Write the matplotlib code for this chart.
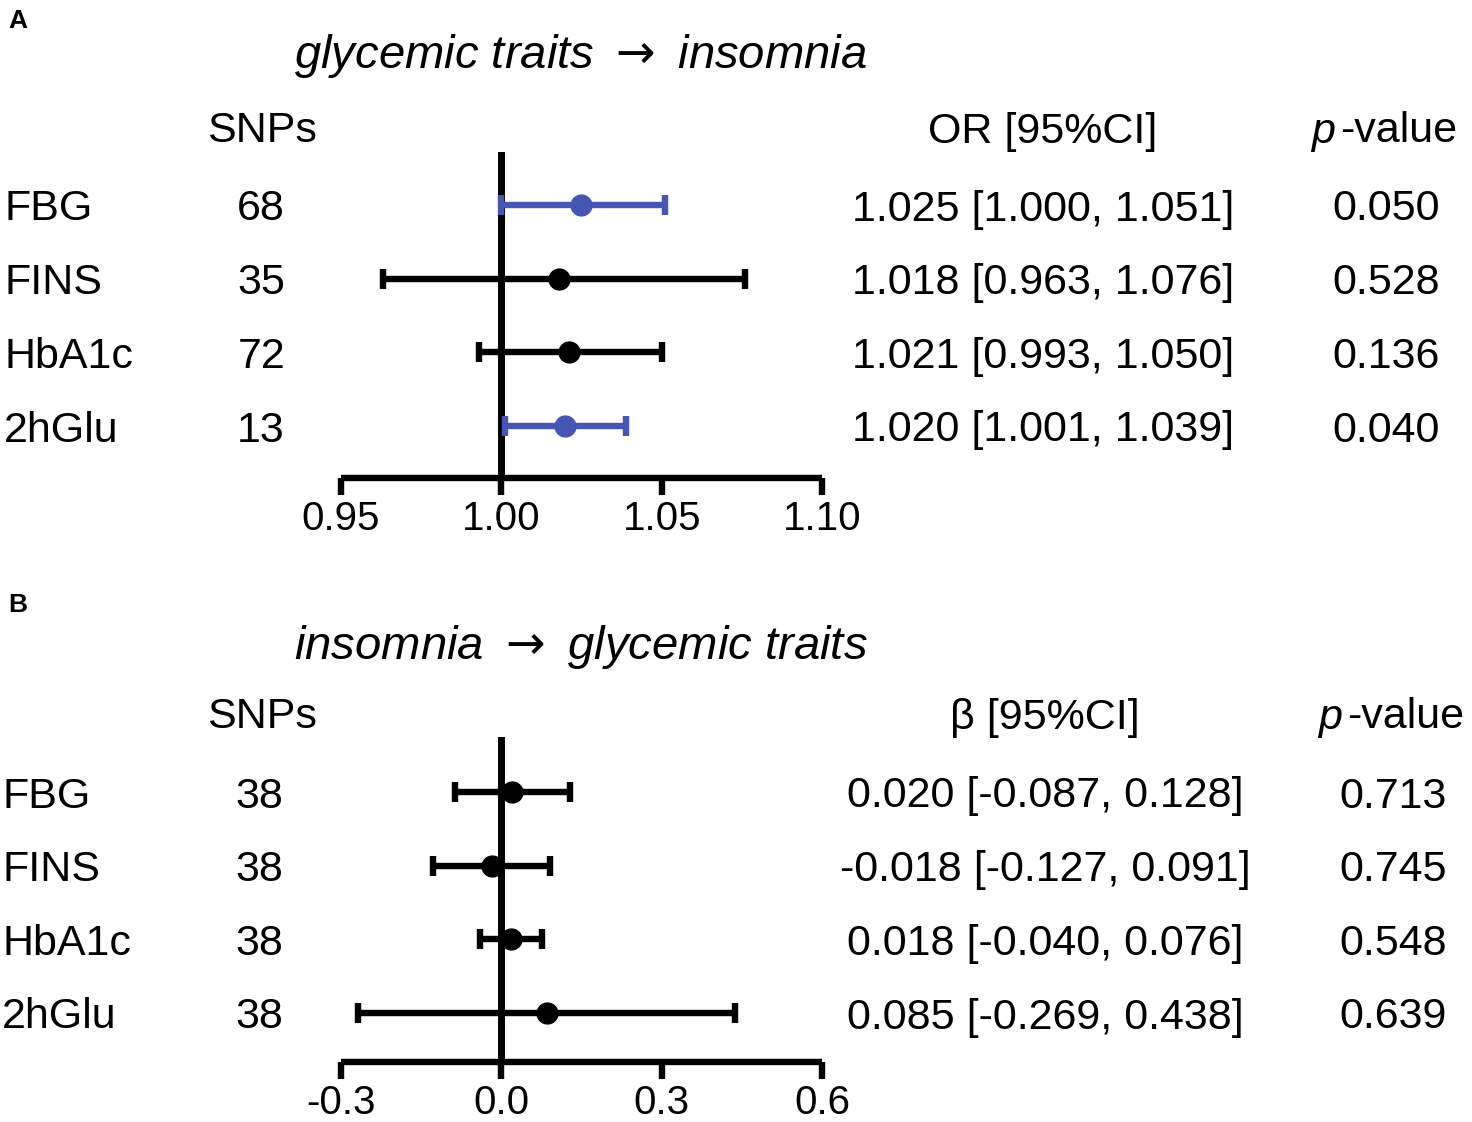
import numpy as np
import matplotlib
matplotlib.use('Agg')
import matplotlib.pyplot as plt
import matplotlib.transforms as mtransforms

plt.rcParams['font.family'] = ['Liberation Sans', 'DejaVu Sans']
plt.rcParams['mathtext.fontset'] = 'dejavusans'

W, H = 1472, 1122

# panel A: glycemic traits -> insomnia
traits = ['FBG', 'FINS', 'HbA1c', '2hGlu']
snps_a = [68, 35, 72, 13]
or_est = [1.025, 1.018, 1.021, 1.020]
or_lo = [1.000, 0.963, 0.993, 1.001]
or_hi = [1.051, 1.076, 1.050, 1.039]
p_a = ['0.050', '0.528', '0.136', '0.040']
col_a = ['#4656b3', 'black', 'black', '#4656b3']
ticks_a = [0.95, 1.00, 1.05, 1.10]

# panel B: insomnia -> glycemic traits
snps_b = [38, 38, 38, 38]
beta_est = [0.020, -0.018, 0.018, 0.085]
beta_lo = [-0.087, -0.127, -0.040, -0.269]
beta_hi = [0.128, 0.091, 0.076, 0.438]
p_b = ['0.713', '0.745', '0.548', '0.639']
col_b = ['black', 'black', 'black', 'black']
ticks_b = [-0.3, 0.0, 0.3, 0.6]

fig = plt.figure(figsize=(W / 100, H / 100), dpi=100)

LW = 4.6
FS = 31


def px(x, y):
    return x / W, 1 - y / H


def panel(top_line, spine_y, est, lo, hi, snps, pvals, cols, ticks, ref,
          fmt_tick, label, title, header, pcenter, estx, lab_x, snp_x, title_y,
          head_y):
    row_top, row_bot = top_line[1], top_line[2]
    step = (row_bot - row_top) / 3.0
    ymax = 4 + (row_top - top_line[0]) / step
    ymin = 1 - (spine_y - row_bot) / step
    left, bottom = px(341, spine_y)
    width = (822 - 341) / W
    height = (spine_y - top_line[0]) / H
    ax = fig.add_axes([left, bottom, width, height])
    ax.set_xlim(ticks[0], ticks[-1])
    ax.set_ylim(ymin, ymax)
    for s in ['left', 'right', 'top']:
        ax.spines[s].set_visible(False)
    ax.spines['bottom'].set_linewidth(LW)
    ax.spines['bottom'].set_capstyle('butt')
    ax.set_yticks([])
    ax.set_xticks(ticks)
    ax.set_xticklabels([fmt_tick(t) for t in ticks], fontsize=29)
    ax.tick_params(axis='x', length=12, width=LW, pad=4)
    ax.axvline(ref, color='black', lw=LW + 0.4, zorder=1)

    ypos = np.arange(4, 0, -1)
    for i in range(4):
        ax.errorbar(est[i], ypos[i],
                    xerr=[[est[i] - lo[i]], [hi[i] - est[i]]],
                    fmt='o', color=cols[i], ms=15, elinewidth=LW,
                    capsize=7.5, capthick=LW, zorder=3)

    tr = mtransforms.blended_transform_factory(fig.transFigure, ax.transData)
    kw = dict(transform=tr, fontsize=FS, va='center_baseline')
    for i in range(4):
        ax.text(lab_x / W, ypos[i], traits[i], ha='left', **kw)
        ax.text(snp_x / W, ypos[i], str(snps[i]), ha='right', **kw)
        ax.text(estx / W, ypos[i],
                f'{est[i]:.3f} [{lo[i]:.3f}, {hi[i]:.3f}]', ha='center', **kw)
        ax.text(pcenter / W, ypos[i], pvals[i], ha='center', **kw)

    fig.text(*px(8, label[1]), label[0], fontsize=19, fontweight='bold',
             ha='left', va='center_baseline')
    fig.text(*px(581, title_y), title, fontsize=34, style='italic',
             ha='center', va='center_baseline')
    hk = dict(fontsize=FS, va='center_baseline')
    fig.text(*px(262, head_y), 'SNPs', ha='center', **hk)
    fig.text(*px(estx, head_y), header, ha='center', **hk)
    fig.text(*px(pcenter - 51, head_y), 'p', style='italic', ha='right', **hk)
    fig.text(*px(pcenter - 46, head_y), '-value', ha='left', **hk)
    return ax


panel((152, 205, 426), 478, or_est, or_lo, or_hi, snps_a, p_a, col_a,
      ticks_a, 1.0, lambda t: f'{t:.2f}', ('A', 19),
      r'glycemic traits $\rightarrow$ insomnia', 'OR [95%CI]', 1386, 1043,
      4, 285, 50, 127)

panel((737, 792, 1013), 1062, beta_est, beta_lo, beta_hi, snps_b, p_b, col_b,
      ticks_b, 0.0, lambda t: f'{t:.1f}', ('B', 603),
      r'insomnia $\rightarrow$ glycemic traits', '\u03b2 [95%CI]', 1393, 1045,
      2, 283, 641, 713)

fig.savefig('out.png', dpi=100)
